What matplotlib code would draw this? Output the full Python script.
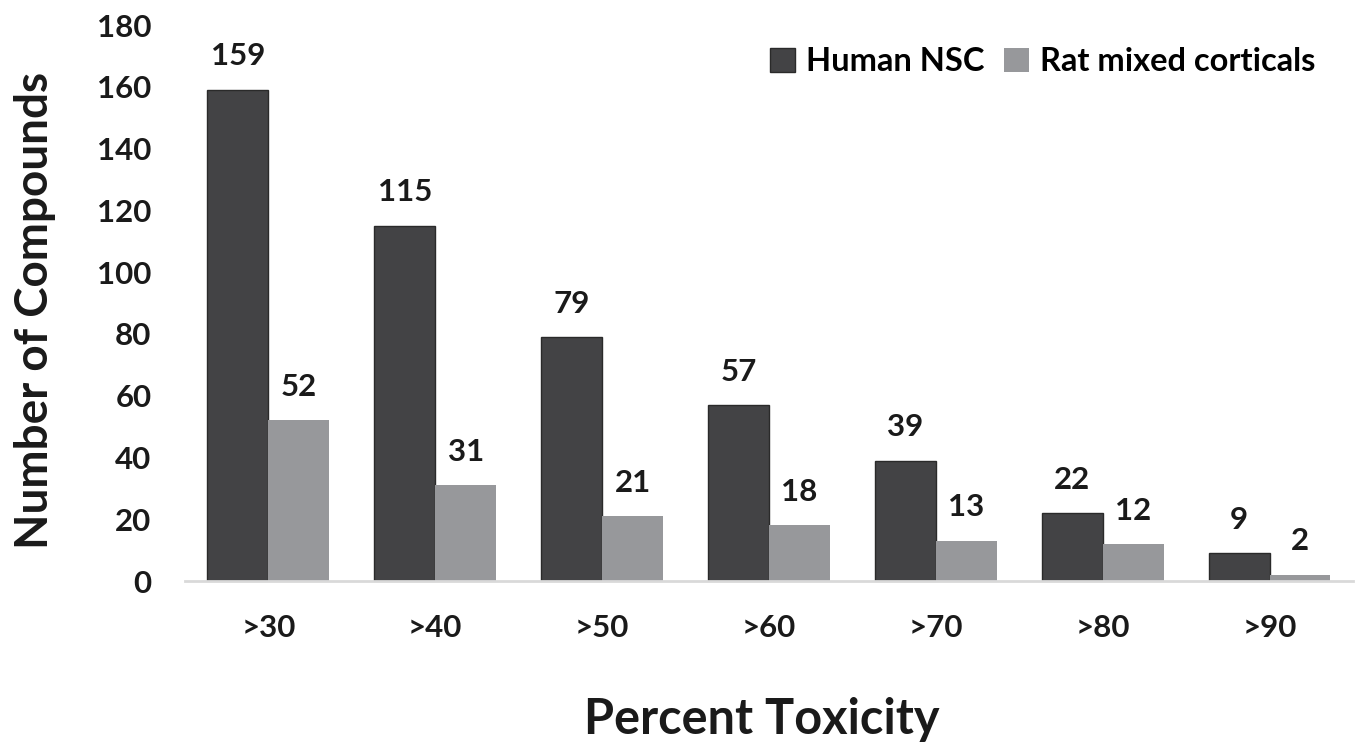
import matplotlib
matplotlib.use('Agg')
import matplotlib.pyplot as plt
import numpy as np

matplotlib.rcParams['font.family'] = ['Lato', 'DejaVu Sans']
matplotlib.rcParams['font.weight'] = 'bold'

categories = ['>30', '>40', '>50', '>60', '>70', '>80', '>90']
human_nsc = [159, 115, 79, 57, 39, 22, 9]
rat_cortical = [52, 31, 21, 18, 13, 12, 2]

dark = '#434345'
light = '#97989b'
txt = '#1a1a1a'

fig = plt.figure(figsize=(13.55, 7.45), dpi=100)
ax = fig.add_axes([0.1365, 0.2201, 0.862, 0.7463])

x = np.arange(len(categories))
w = 0.365
b1 = ax.bar(x - w/2, human_nsc, w, color=dark, edgecolor='#2a2a2a', linewidth=1, label='Human NSC')
b2 = ax.bar(x + w/2, rat_cortical, w, color=light, edgecolor=light, linewidth=0, label='Rat mixed corticals')

for bars, vals in ((b1, human_nsc), (b2, rat_cortical)):
    for r, v in zip(bars, vals):
        ax.annotate(str(v), (r.get_x() + r.get_width()/2, v), xytext=(0, 14),
                    textcoords='offset points', ha='center', va='bottom',
                    fontsize=22.5, fontweight='bold', color=txt)

ax.set_xlim(-0.5, len(categories) - 0.5)
ax.set_ylim(0, 180)
ax.set_yticks(range(0, 181, 20))
ax.set_xticks(x)
ax.set_xticklabels(categories)
ax.tick_params(axis='both', length=0, labelsize=22.5, colors=txt)
ax.tick_params(axis='x', pad=24)
ax.tick_params(axis='y', pad=24)
for s in ['top', 'right', 'left']:
    ax.spines[s].set_visible(False)
ax.spines['bottom'].set_color('#d9d9d9')
ax.spines['bottom'].set_linewidth(2)

fig.text(0.026, 0.583, 'Number of Compounds', rotation=90, ha='center', va='center',
         fontsize=33, fontweight='bold', color=txt)
fig.text(0.5624, 0.034, 'Percent Toxicity', ha='center', va='center', fontsize=35,
         fontweight='bold', color=txt)

fig.legend(handles=[b1, b2], loc='upper right', bbox_to_anchor=(0.971, 0.937), ncol=2,
           frameon=False, fontsize=23.5, handlelength=0.75, handleheight=0.75,
           handletextpad=0.35, columnspacing=0.6, borderaxespad=0, borderpad=0)

fig.savefig('out.png', dpi=100)
